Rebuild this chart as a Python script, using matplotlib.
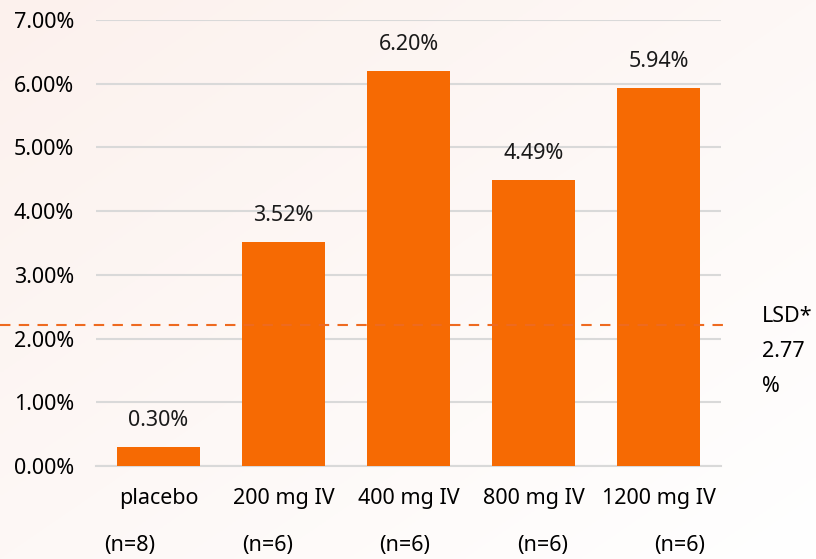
import numpy as np
import matplotlib.pyplot as plt

# === Data ===
doses = ["placebo", "200 mg IV", "400 mg IV", "800 mg IV", "1200 mg IV"]
group_sizes = ["(n=8)", "(n=6)", "(n=6)", "(n=6)", "(n=6)"]
response_pct = [0.30, 3.52, 6.20, 4.49, 5.94]
lsd_line = 2.21
lsd_text = ["LSD*", "2.77", "%"]
yticks = [0, 1, 2, 3, 4, 5, 6, 7]

BAR = "#f66a03"
GRID = "#d9d9d9"
W, H = 816, 559
FS = 15.5

plt.rcParams['font.family'] = ['Noto Sans', 'DejaVu Sans']

fig = plt.figure(figsize=(W / 100, H / 100), dpi=100)

# soft pink-to-white diagonal background
bg = fig.add_axes([0, 0, 1, 1], zorder=-10)
gx, gy = np.meshgrid(np.linspace(0, 1, 200), np.linspace(0, 1, 200))
t = np.clip((gx + gy) / 2, 0, 1)
top = np.array([252, 241, 237]) / 255
bot = np.array([255, 255, 255]) / 255
img = top[None, None, :] * (1 - t[..., None]) + bot[None, None, :] * t[..., None]
bg.imshow(img, aspect='auto', extent=[0, 1, 0, 1])
bg.axis('off')

ax = fig.add_axes([96 / W, 1 - 466 / H, 625 / W, 446 / H])
ax.set_facecolor('none')

x = np.arange(len(doses))
bars = ax.bar(x, response_pct, width=0.664, color=BAR, zorder=3)
for xi, v in zip(x, response_pct):
    ax.annotate(f"{v:.2f}%", (xi, v), xytext=(0, 19), textcoords='offset points',
                ha='center', va='center', fontsize=FS, color='#1a1a1a')

ax.set_xlim(-0.5, len(doses) - 0.5)
ax.set_ylim(0, 7)
ax.set_yticks(yticks)
ax.set_yticklabels([f"{v:.2f}%" for v in yticks], fontsize=FS)
ax.set_xticks(x)
ax.set_xticklabels(doses, fontsize=FS)
ax.tick_params(axis='y', length=0, pad=16)
ax.tick_params(axis='x', length=0, pad=15.5)
ax.grid(axis='y', color=GRID, lw=1.5, zorder=0)
for s in ['top', 'right', 'left']:
    ax.spines[s].set_visible(False)
ax.spines['bottom'].set_color(GRID)
ax.spines['bottom'].set_linewidth(1.5)

# group sizes under the dose labels
for i, n in enumerate(group_sizes):
    fig.text((130 + i * 137.5) / W, 1 - 545 / H, n, ha='center', va='center', fontsize=FS)

# least significant difference threshold
ax.plot([-0.154, 1.006], [lsd_line, lsd_line], transform=ax.get_yaxis_transform(),
        color="#ee6a20", lw=1.5, ls=(0, (5, 4)), clip_on=False, zorder=4)
for i, line in enumerate(lsd_text):
    fig.text(762 / W, 1 - (322 + i * 35) / H, line, ha='left', va='baseline', fontsize=FS)

fig.savefig("out.png", dpi=100)
